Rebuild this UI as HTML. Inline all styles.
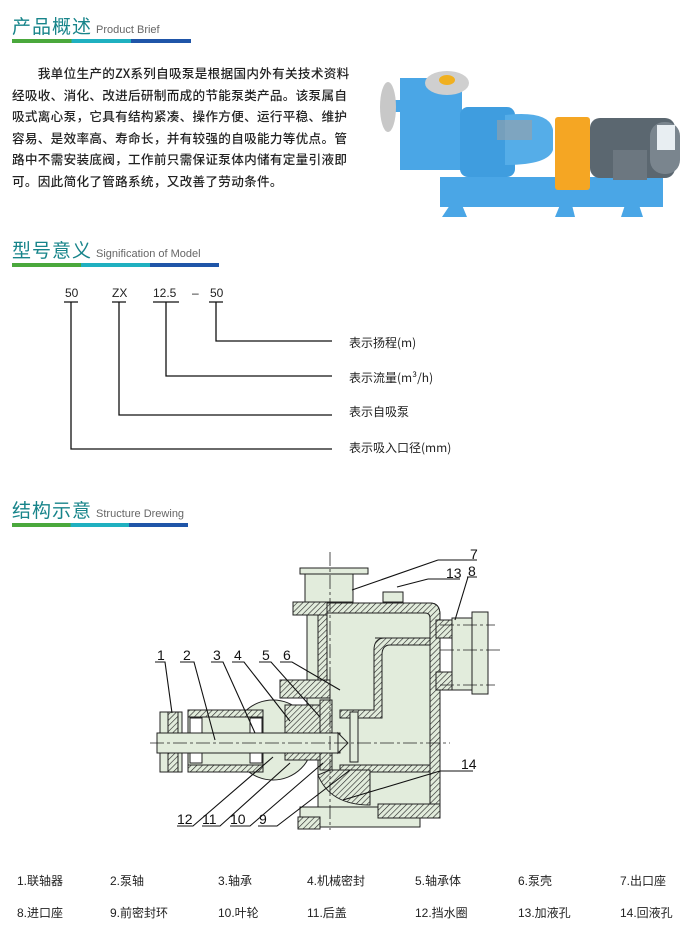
<!DOCTYPE html>
<html><head><meta charset="utf-8"><style>
body{margin:0;background:#fff;width:700px;height:952px;position:relative;overflow:hidden;font-family:"Liberation Sans","Noto Sans CJK SC",sans-serif;color:#222}
.a{position:absolute;white-space:nowrap}
.h{font-size:19px;color:#17848a;font-family:"Noto Sans CJK SC",sans-serif;letter-spacing:1px}
.h span{font-size:11px;color:#666;font-family:"Liberation Sans",sans-serif;letter-spacing:0;margin-left:4px}
.bar{position:absolute;height:4px;background:linear-gradient(90deg,#4aa83c 0 33.3%,#1fb0c0 33.3% 66.6%,#1f55a8 66.6%)}
.p{position:absolute;left:12px;top:62px;width:345px;font-size:12.6px;line-height:21.6px;font-family:"Noto Sans CJK SC",sans-serif;color:#222;font-weight:500;letter-spacing:0.3px}
.p div{white-space:nowrap}
.m{font-size:12px}
.lg{font-size:12px;font-family:"Liberation Sans","Noto Sans CJK SC",sans-serif}
</style></head><body>
<div class="a h" style="left:12px;top:12px">产品概述<span>Product Brief</span></div>
<div class="bar" style="left:12px;top:39px;width:179px"></div>
<div class="p">
<div>&emsp;&emsp;我单位生产的<span style="letter-spacing:0">ZX</span>系列自吸泵是根据国内外有关技术资料</div>
<div>经吸收、消化、改进后研制而成的节能泵类产品。该泵属自</div>
<div>吸式离心泵，它具有结构紧凑、操作方便、运行平稳、维护</div>
<div>容易、是效率高、寿命长，并有较强的自吸能力等优点。管</div>
<div>路中不需安装底阀，工作前只需保证泵体内储有定量引液即</div>
<div>可。因此简化了管路系统，又改善了劳动条件。</div>
</div>

<svg class="a" style="left:360px;top:30px" width="340" height="200" viewBox="360 30 340 200">
<rect x="440" y="177" width="223" height="30" fill="#4aa6e6"/>
<path d="M450 205 l-8 12 h25 l-5 -12z M560 205 l-5 12 h20 l-3 -12z M625 205 l-4 12 h22 l-4 -12z" fill="#4aa6e6"/>
<rect x="385" y="100" width="20" height="12" fill="#4aa6e6"/>
<ellipse cx="388" cy="107" rx="8" ry="25" fill="#c8c8c8"/>
<rect x="400" y="78" width="62" height="92" fill="#4aa6e6"/>
<ellipse cx="447" cy="83" rx="22" ry="12" fill="#cfcfcf"/>
<ellipse cx="447" cy="80" rx="8" ry="5" fill="#f0b020"/>
<rect x="460" y="107" width="55" height="70" rx="8" fill="#3f9ddf"/>
<path d="M505 115 q45 -5 48 15 v20 q-5 15 -48 15z" fill="#55ade8"/>
<rect x="497" y="120" width="35" height="20" fill="#9aa0a5" opacity=".6"/>
<rect x="555" y="117" width="35" height="73" rx="3" fill="#f5a623"/>
<rect x="590" y="118" width="85" height="60" rx="10" fill="#5b6770"/>
<rect x="650" y="122" width="30" height="52" rx="14" fill="#7a858e"/>
<rect x="613" y="150" width="34" height="30" fill="#6c7780"/>
<rect x="657" y="125" width="18" height="25" fill="#e8eef2"/>
</svg>

<div class="a h" style="left:12px;top:236px">型号意义<span>Signification of Model</span></div>
<div class="bar" style="left:12px;top:263px;width:207px"></div>
<div class="a m" style="left:65px;top:286px">50</div>
<div class="a m" style="left:112px;top:286px">ZX</div>
<div class="a m" style="left:153px;top:286px">12.5</div>
<div class="a m" style="left:192px;top:286px">–</div>
<div class="a m" style="left:210px;top:286px">50</div>
<svg class="a" style="left:0;top:0" width="700" height="952">
<g stroke="#111" stroke-width="1.3" fill="none">
<path d="M64 302h14M71 302V449H332M112 302h14M119 302V415H332M153 302h26M166 302V376H332M209 302h14M216 302V341H332"/>
</g></svg>
<div class="a m" style="left:349px;top:334px;font-family:'Noto Sans CJK SC',sans-serif">表示扬程(m)</div>
<div class="a m" style="left:349px;top:369px;font-family:'Noto Sans CJK SC',sans-serif">表示流量(m³/h)</div>
<div class="a m" style="left:349px;top:403px;font-family:'Noto Sans CJK SC',sans-serif">表示自吸泵</div>
<div class="a m" style="left:349px;top:439px;font-family:'Noto Sans CJK SC',sans-serif">表示吸入口径(mm)</div>

<div class="a h" style="left:12px;top:496px">结构示意<span>Structure Drewing</span></div>
<div class="bar" style="left:12px;top:523px;width:176px"></div>

<svg class="a" style="left:0;top:0" width="700" height="952">
<defs><pattern id="ht" width="4" height="4" patternUnits="userSpaceOnUse" patternTransform="rotate(45)"><rect width="4" height="4" fill="#e2ecdc"/><line x1="0" y1="0" x2="0" y2="4" stroke="#222" stroke-width="1.2"/></pattern></defs>
<g stroke="#222" stroke-width="1" fill="#e2ecdc">
<rect x="300" y="568" width="68" height="6"/>
<rect x="305" y="574" width="48" height="28"/>
<path d="M307 603 H430 Q440 603 440 615 V807 H318 V757 H307Z"/>
<path d="M307 603 H430 Q440 603 440 615 V807 H430 V618 Q430 613 425 613 H327 V690 H318 V612 H307Z" fill="url(#ht)"/>
<path d="M375 638 H430 V645 H390 Q382 645 382 655 V718 H340 V710 H374 V650 Q374 638 385 638Z" fill="url(#ht)"/>
<path d="M340 765 H430 V772 H340Z" fill="url(#ht)"/>
<rect x="436" y="620" width="16" height="18" fill="url(#ht)"/>
<rect x="436" y="672" width="16" height="18" fill="url(#ht)"/>
<rect x="452" y="618" width="20" height="72"/>
<rect x="472" y="612" width="16" height="82"/>
<rect x="293" y="602" width="34" height="13" fill="url(#ht)"/>
<rect x="383" y="592" width="20" height="10"/>
<circle cx="273" cy="740" r="40"/>
<rect x="188" y="710" width="75" height="62"/>
<rect x="188" y="710" width="75" height="7" fill="url(#ht)"/>
<rect x="188" y="765" width="75" height="7" fill="url(#ht)"/>
<rect x="190" y="718" width="12" height="45" fill="#fff"/><rect x="250" y="718" width="12" height="45" fill="#fff"/>
<rect x="280" y="680" width="50" height="18" fill="url(#ht)"/>
<rect x="285" y="705" width="35" height="55" fill="url(#ht)"/>
<rect x="320" y="700" width="12" height="70" fill="url(#ht)"/>
<rect x="160" y="712" width="22" height="60"/>
<rect x="168" y="712" width="10" height="60" fill="url(#ht)"/>
<rect x="157" y="733" width="183" height="20"/>
<path d="M338 733 l10 10 l-10 10z"/>
<rect x="350" y="712" width="8" height="50"/>
<path d="M318 775 Q330 805 370 805 V770 H330 Z" fill="url(#ht)"/>
<rect x="300" y="807" width="120" height="20"/>
<rect x="298" y="817" width="22" height="12" fill="url(#ht)"/>
<rect x="378" y="804" width="62" height="14" fill="url(#ht)"/>
</g>
<g stroke="#222" stroke-width=".8" stroke-dasharray="14 3 3 3" fill="none">
<path d="M150 743 H450 M330 552 V830 M440 650 H500 M440 625 H495 M440 685 H495"/>
</g>
<g stroke="#111" stroke-width="1.1" fill="none">
<path d="M155 662h10l7 51M180 662h14l21 78M211 662h12l32 71M232 662h12l46 59M259 662h12l49 55M280 662h12l48 28M438 560h39M438 560L352 590M428 579h32M428 579L397 587M467 577h10M468 577L455 620M440 771h33M440 771L343 800M177 826h16l80 -69M202 826h18l70 -63M230 826h20l73 -63M258 826h19l73 -56"/>
</g>
<g font-family="Liberation Sans,sans-serif" font-size="14" fill="#111">
<text x="157" y="660">1</text><text x="183" y="660">2</text><text x="213" y="660">3</text><text x="234" y="660">4</text><text x="262" y="660">5</text><text x="283" y="660">6</text>
<text x="470" y="559">7</text><text x="446" y="578">13</text><text x="468" y="576">8</text><text x="461" y="769">14</text>
<text x="177" y="824">12</text><text x="202" y="824">11</text><text x="230" y="824">10</text><text x="259" y="824">9</text>
</g></svg>

<div class="a lg" style="left:17px;top:872px">1.联轴器</div>
<div class="a lg" style="left:110px;top:872px">2.泵轴</div>
<div class="a lg" style="left:218px;top:872px">3.轴承</div>
<div class="a lg" style="left:307px;top:872px">4.机械密封</div>
<div class="a lg" style="left:415px;top:872px">5.轴承体</div>
<div class="a lg" style="left:518px;top:872px">6.泵壳</div>
<div class="a lg" style="left:620px;top:872px">7.出口座</div>
<div class="a lg" style="left:17px;top:904px">8.进口座</div>
<div class="a lg" style="left:110px;top:904px">9.前密封环</div>
<div class="a lg" style="left:218px;top:904px">10.叶轮</div>
<div class="a lg" style="left:307px;top:904px">11.后盖</div>
<div class="a lg" style="left:415px;top:904px">12.挡水圈</div>
<div class="a lg" style="left:518px;top:904px">13.加液孔</div>
<div class="a lg" style="left:620px;top:904px">14.回液孔</div>
</body></html>
